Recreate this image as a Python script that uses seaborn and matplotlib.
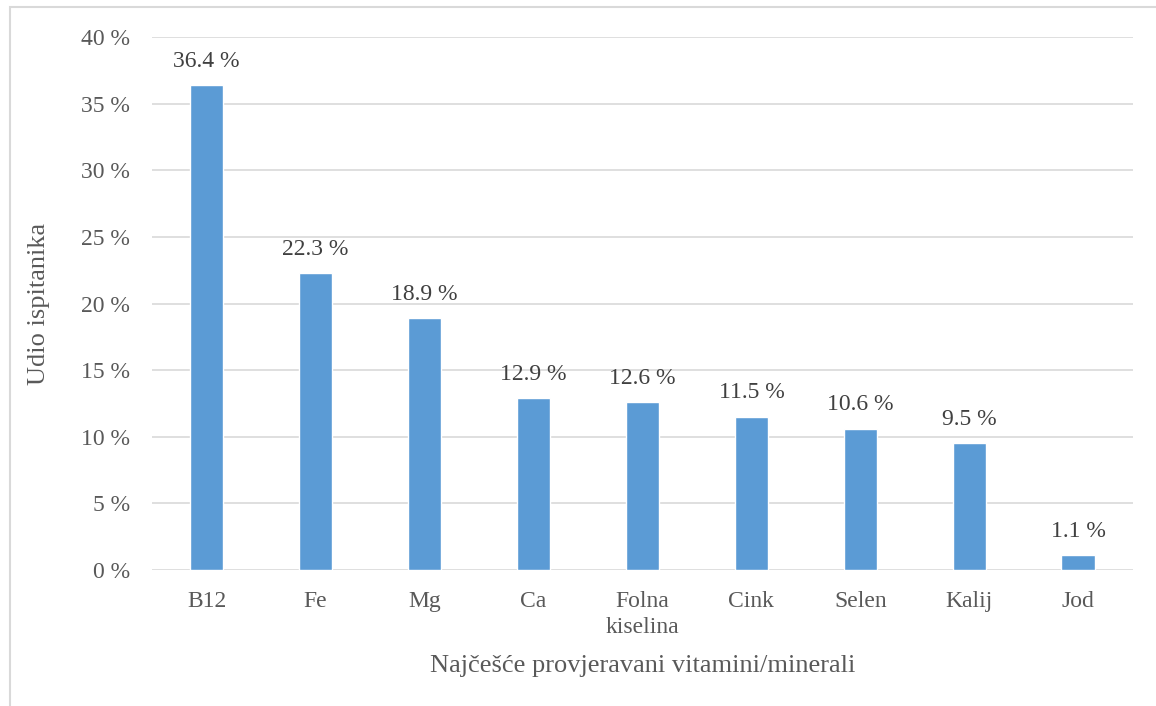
import matplotlib
matplotlib.use("Agg")
import matplotlib.pyplot as plt
import seaborn as sns
import pandas as pd
from matplotlib.patches import Rectangle

# data
categories = ["B12", "Fe", "Mg", "Ca", "Folna\nkiselina", "Cink", "Selen", "Kalij", "Jod"]
values = [36.4, 22.3, 18.9, 12.9, 12.6, 11.5, 10.6, 9.5, 1.1]
y_ticks = [0, 5, 10, 15, 20, 25, 30, 35, 40]

df = pd.DataFrame({"kategorija": categories, "udio": values})

sns.set_style("white")
plt.rcParams["font.family"] = ["Liberation Serif", "DejaVu Serif"]

text_color = "#595959"
grid_color = "#d9d9d9"

fig = plt.figure(figsize=(11.56, 7.06), dpi=100)
ax = fig.add_axes([0.1315, 0.1926, 0.8485, 0.755])

sns.barplot(data=df, x="kategorija", y="udio", color="#5B9BD5", width=0.31,
            saturation=1, ax=ax, zorder=3)

# value labels
for i, v in enumerate(values):
    ax.text(i, v + 1.0, f"{v:.1f} %", ha="center", va="bottom",
            fontsize=17, color="#404040")

ax.set_ylim(0, 40)
ax.set_xlim(-0.5, len(categories) - 0.5)
ax.set_yticks(y_ticks)
ax.set_yticklabels([f"{t} %" for t in y_ticks])
ax.yaxis.grid(True, color=grid_color, linewidth=1.2, zorder=0)
ax.set_axisbelow(True)
for s in ax.spines.values():
    s.set_visible(False)
ax.tick_params(axis="both", length=0, labelsize=17, labelcolor=text_color)
ax.tick_params(axis="y", pad=16)
ax.tick_params(axis="x", pad=15)
for lbl in ax.get_xticklabels():
    lbl.set_linespacing(1.35)

ax.set_xlabel("Najčešće provjeravani vitamini/minerali", fontsize=19,
              color=text_color, labelpad=12)
ax.set_ylabel("Udio ispitanika", fontsize=19, color=text_color, labelpad=22)

# outer frame like the source document
fig.patches.append(Rectangle((10 / 1156, -0.05), 1.2, 1 - 7 / 706 + 0.05,
                             transform=fig.transFigure, fill=False,
                             edgecolor=grid_color, linewidth=1.5))

fig.savefig("out.png", dpi=100)
